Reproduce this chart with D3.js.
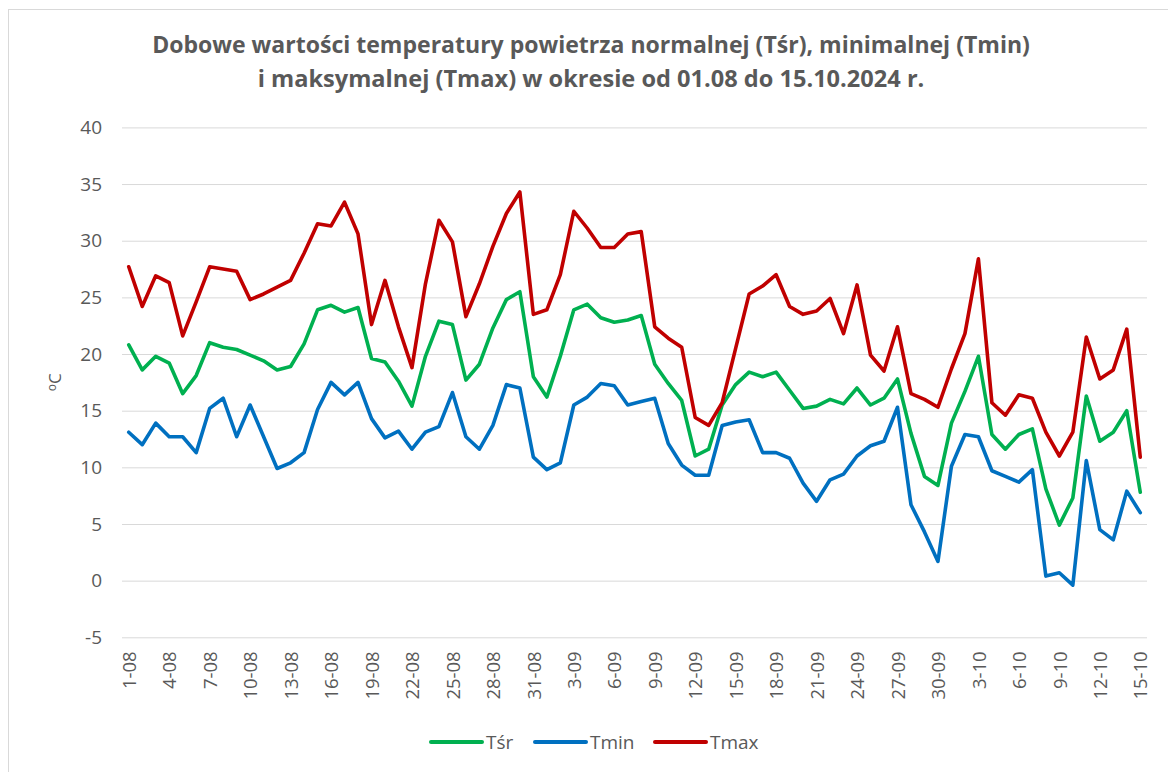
<!DOCTYPE html>
<html>
<head>
<meta charset="utf-8">
<script src="https://d3js.org/d3.v7.min.js"></script>
<style>
  body { margin: 0; background: #fff; }
  svg { display: block; font-family: "Open Sans", sans-serif; }
</style>
</head>
<body>
<div id="chart"></div>
<script>
// day labels 1-08 ... 15-10
const days = [
  ...d3.range(1, 32).map(d => `${d}-08`),
  ...d3.range(1, 31).map(d => `${d}-09`),
  ...d3.range(1, 16).map(d => `${d}-10`)
];

const tsr = [
  20.8, 18.6, 19.8, 19.2, 16.5, 18.1, 21.0, 20.6, 20.4, 19.9,
  19.4, 18.6, 18.9, 20.9, 23.9, 24.3, 23.7, 24.1, 19.6, 19.3,
  17.6, 15.4, 19.8, 22.9, 22.6, 17.7, 19.1, 22.3, 24.8, 25.5,
  18.0, 16.2, 19.8, 23.9, 24.4, 23.2, 22.8, 23.0, 23.4, 19.1,
  17.4, 15.9, 11.0, 11.6, 15.5, 17.3, 18.4, 18.0, 18.4, 16.8,
  15.2, 15.4, 16.0, 15.6, 17.0, 15.5, 16.1, 17.8, 13.0, 9.2,
  8.4, 13.9, 16.7, 19.8, 12.9, 11.6, 12.9, 13.4, 8.1, 4.9,
  7.3, 16.3, 12.3, 13.1, 15.0, 7.8
];

const tmin = [
  13.1, 12.0, 13.9, 12.7, 12.7, 11.3, 15.2, 16.1, 12.7, 15.5,
  12.7, 9.9, 10.4, 11.3, 15.1, 17.5, 16.4, 17.5, 14.3, 12.6,
  13.2, 11.6, 13.1, 13.6, 16.6, 12.7, 11.6, 13.7, 17.3, 17.0,
  10.9, 9.8, 10.4, 15.5, 16.2, 17.4, 17.2, 15.5, 15.8, 16.1,
  12.1, 10.2, 9.3, 9.3, 13.7, 14.0, 14.2, 11.3, 11.3, 10.8,
  8.6, 7.0, 8.9, 9.4, 11.0, 11.9, 12.3, 15.3, 6.7, 4.3,
  1.7, 10.1, 12.9, 12.7, 9.7, 9.2, 8.7, 9.8, 0.4, 0.7,
  -0.4, 10.6, 4.5, 3.6, 7.9, 6.0
];

const tmax = [
  27.7, 24.2, 26.9, 26.3, 21.6, 24.6, 27.7, 27.5, 27.3, 24.8,
  25.3, 25.9, 26.5, 28.9, 31.5, 31.3, 33.4, 30.6, 22.6, 26.5,
  22.4, 18.8, 26.2, 31.8, 29.9, 23.3, 26.2, 29.5, 32.4, 34.3,
  23.5, 23.9, 27.0, 32.6, 31.1, 29.4, 29.4, 30.6, 30.8, 22.4,
  21.4, 20.6, 14.4, 13.7, 15.7, 20.5, 25.3, 26.0, 27.0, 24.2,
  23.5, 23.8, 24.9, 21.8, 26.1, 19.9, 18.5, 22.4, 16.5, 16.0,
  15.3, 18.7, 21.8, 28.4, 15.7, 14.6, 16.4, 16.1, 13.1, 11.0,
  13.1, 21.5, 17.8, 18.6, 22.2, 10.9
];

const yTicks = [-5, 0, 5, 10, 15, 20, 25, 30, 35, 40];
const xTickLabels = days.filter((d, i) => i % 3 === 0);

const seriesNames = ["Tśr", "Tmin", "Tmax"];
const seriesColors = ["#00B050", "#0070C0", "#C00000"];
const seriesValues = [tsr, tmin, tmax];

const titleLines = [
  "Dobowe wartości temperatury powietrza normalnej (Tśr), minimalnej (Tmin)",
  "i maksymalnej (Tmax) w okresie od 01.08 do 15.10.2024 r."
];

const W = 1168, H = 772;
const plot = { left: 122, right: 1147, top: 127.4, bottom: 637.3 };
const textColor = "#595959";

const svg = d3.select("#chart").append("svg")
  .attr("width", W)
  .attr("height", H);

// outer chart border (only top and left visible in the crop)
svg.append("rect")
  .attr("x", 8.5).attr("y", 9.5)
  .attr("width", 1300).attr("height", 900)
  .attr("fill", "none")
  .attr("stroke", "#d9d9d9");

const x = d3.scalePoint()
  .domain(days)
  .range([plot.left, plot.right])
  .padding(0.5);

const y = d3.scaleLinear()
  .domain([-5, 40])
  .range([plot.bottom, plot.top]);

// gridlines
svg.append("g")
  .attr("transform", `translate(${plot.left},0)`)
  .call(d3.axisLeft(y).tickValues(yTicks).tickSize(-(plot.right - plot.left)).tickFormat(""))
  .call(g => g.select(".domain").remove())
  .call(g => g.selectAll("line").attr("stroke", "#d9d9d9").attr("stroke-width", 1));

// y axis labels (plain hyphen for negatives, like the original)
svg.append("g")
  .attr("transform", `translate(${plot.left},0)`)
  .call(d3.axisLeft(y).tickValues(yTicks).tickSize(0).tickPadding(20).tickFormat(d => String(d)))
  .call(g => g.select(".domain").remove())
  .call(g => g.selectAll("text")
    .attr("fill", textColor)
    .style("font-size", "19px")
    .style("font-family", "'Open Sans', sans-serif"));

// x axis labels, rotated
svg.append("g")
  .attr("transform", `translate(0,${plot.bottom})`)
  .call(d3.axisBottom(x).tickValues(xTickLabels).tickSize(0))
  .call(g => g.select(".domain").remove())
  .call(g => g.selectAll("text")
    .attr("fill", textColor)
    .style("font-size", "18.5px")
    .style("font-family", "'Open Sans', sans-serif")
    .attr("text-anchor", "end")
    .attr("transform", "rotate(-90)")
    .attr("x", -14)
    .attr("y", 0)
    .attr("dy", "0.36em"));

// y axis title: small raised "o" + "C"
const yTitle = svg.append("text")
  .attr("transform", `translate(61,${(plot.top + plot.bottom) / 2}) rotate(-90)`)
  .attr("text-anchor", "middle")
  .attr("fill", textColor)
  .style("font-size", "17px");
yTitle.append("tspan")
  .style("font-size", "12px")
  .attr("dy", "-0.45em")
  .text("o");
yTitle.append("tspan")
  .attr("dy", "0.3em")
  .text("C");

// lines
const line = d3.line()
  .x((d, i) => x(days[i]))
  .y(d => y(d));

svg.append("g")
  .selectAll("path")
  .data(seriesValues)
  .join("path")
  .attr("d", d => line(d))
  .attr("fill", "none")
  .attr("stroke", (d, i) => seriesColors[i])
  .attr("stroke-width", 3.6)
  .attr("stroke-linejoin", "round")
  .attr("stroke-linecap", "round");

// title
const title = svg.append("g");
const titleTargets = [878, 667];
titleLines.forEach((t, i) => {
  const txt = title.append("text")
    .attr("x", 591)
    .attr("y", 53 + i * 34)
    .attr("text-anchor", "middle")
    .attr("fill", textColor)
    .style("font-weight", "bold")
    .style("font-size", "20px")
    .text(t);
  const len = txt.node().getComputedTextLength();
  txt.style("font-size", `${(20 * titleTargets[i] / len).toFixed(2)}px`);
});

// legend
const legendX = [431, 535, 655];
const legend = svg.append("g")
  .selectAll("g")
  .data(seriesNames)
  .join("g")
  .attr("transform", (d, i) => `translate(${legendX[i]},742)`);

legend.append("line")
  .attr("x1", 0).attr("x2", 51)
  .attr("stroke", (d, i) => seriesColors[i])
  .attr("stroke-width", 4)
  .attr("stroke-linecap", "round");

legend.append("text")
  .attr("x", 55)
  .attr("dy", "0.35em")
  .attr("fill", textColor)
  .style("font-size", "19px")
  .text(d => d);
</script>
</body>
</html>
